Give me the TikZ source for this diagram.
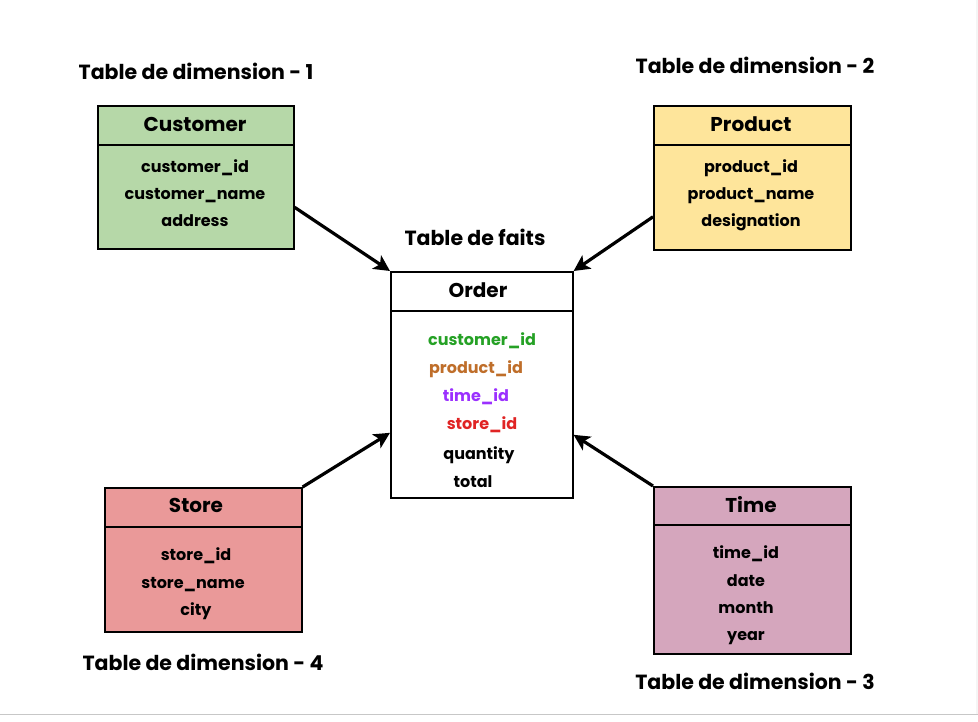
\documentclass[tikz,border=0pt]{standalone}
\usepackage{fontspec}
\setmainfont{Poppins}
\usetikzlibrary{arrows.meta}
\definecolor{custfill}{HTML}{B6D8A8}
\definecolor{prodfill}{HTML}{FEE59B}
\definecolor{storefill}{HTML}{EA9999}
\definecolor{timefill}{HTML}{D5A6BD}
\definecolor{cgreen}{HTML}{25A125}
\definecolor{cbrown}{HTML}{BF6E2A}
\definecolor{cpurple}{HTML}{9B30FF}
\definecolor{cred}{HTML}{E02424}
\tikzset{
  tablebox/.style={draw=black, line width=1.6pt, anchor=north west, inner sep=0pt},
  sepline/.style={line width=2.6pt},
  txt/.style={inner sep=0pt, text height=0.97em, text depth=0em, yshift=-3pt},
  hdr/.style={txt, font=\fontsize{20}{22}\selectfont\bfseries},
  fld/.style={txt, font=\fontsize{16}{18}\selectfont\bfseries},
  ttl/.style={txt, font=\fontsize{20.5}{22}\selectfont\bfseries},
  conn/.style={line width=3.2pt, -{Stealth[length=16pt,width=16pt,inset=4pt]}}
}
\begin{document}
\begin{tikzpicture}[x=1pt,y=-1pt]
\useasboundingbox (0,0) rectangle (978,721);
\fill[white] (0,0) rectangle (978,721);
\fill[black!4] (975.5,0) rectangle (978,714);
\draw[black!22, line width=1.2pt] (0,714.5) -- (978,714.5);

% Customer
\node[tablebox, fill=custfill, minimum width=196pt, minimum height=143pt] (cust) at (97,105) {};
\draw[sepline] ([yshift=-40pt]cust.north west) -- ([yshift=-40pt]cust.north east);
\node[hdr] (custh) at (195,124) {Customer};
\node[fld] (cust1) at (195,165) {customer\_id};
\node[fld] (cust2) at (195,192) {customer\_name};
\node[fld] (cust3) at (195,219) {address};
\node[ttl] (t1) at (196,72) {Table de dimension - 1};

% Product
\node[tablebox, fill=prodfill, minimum width=197pt, minimum height=144pt] (prod) at (653,105) {};
\draw[sepline] ([yshift=-40pt]prod.north west) -- ([yshift=-40pt]prod.north east);
\node[hdr] (prodh) at (751,124) {Product};
\node[fld] (prod1) at (751,165) {product\_id};
\node[fld] (prod2) at (751,192) {product\_name};
\node[fld] (prod3) at (751,219) {designation};
\node[ttl] (t2) at (755,66) {Table de dimension - 2};

% Order
\node[tablebox, fill=white, minimum width=182pt, minimum height=226pt] (ord) at (390,271) {};
\draw[sepline] ([yshift=-40pt]ord.north west) -- ([yshift=-40pt]ord.north east);
\node[hdr] (ordh) at (478,290) {Order};
\node[fld, text=cgreen] (o1) at (482,338) {customer\_id};
\node[fld, text=cbrown] (o2) at (476,366) {product\_id};
\node[fld, text=cpurple] (o3) at (476,394) {time\_id};
\node[fld, text=cred] (o4) at (482,422) {store\_id};
\node[fld] (o5) at (479,452) {quantity};
\node[fld] (o6) at (473,480) {total};
\node[ttl] (tf) at (475,238) {Table de faits};

% Store
\node[tablebox, fill=storefill, minimum width=197pt, minimum height=144pt] (store) at (104,487) {};
\draw[sepline] ([yshift=-40pt]store.north west) -- ([yshift=-40pt]store.north east);
\node[hdr] (storeh) at (196,505) {Store};
\node[fld] (store1) at (196,553) {store\_id};
\node[fld] (store2) at (193,581) {store\_name};
\node[fld] (store3) at (196,608) {city};
\node[ttl] (t4) at (203,663) {Table de dimension - 4};

% Time
\node[tablebox, fill=timefill, minimum width=197pt, minimum height=167pt] (time) at (653,486) {};
\draw[sepline] ([yshift=-39pt]time.north west) -- ([yshift=-39pt]time.north east);
\node[hdr] (timeh) at (751,505) {Time};
\node[fld] (time1) at (746,551) {time\_id};
\node[fld] (time2) at (746,579) {date};
\node[fld] (time3) at (746,606) {month};
\node[fld] (time4) at (746,633) {year};
\node[ttl] (t3) at (755,682) {Table de dimension - 3};

% Connectors
\draw[conn] ([yshift=-30pt]cust.east) -- (ord.north west);
\draw[conn] ([yshift=-39pt]prod.west) -- (ord.north east);
\draw[conn] (store.north east) -- ([yshift=-48pt]ord.west);
\draw[conn] (time.north west) -- ([yshift=-50pt]ord.east);
\end{tikzpicture}
\end{document}
